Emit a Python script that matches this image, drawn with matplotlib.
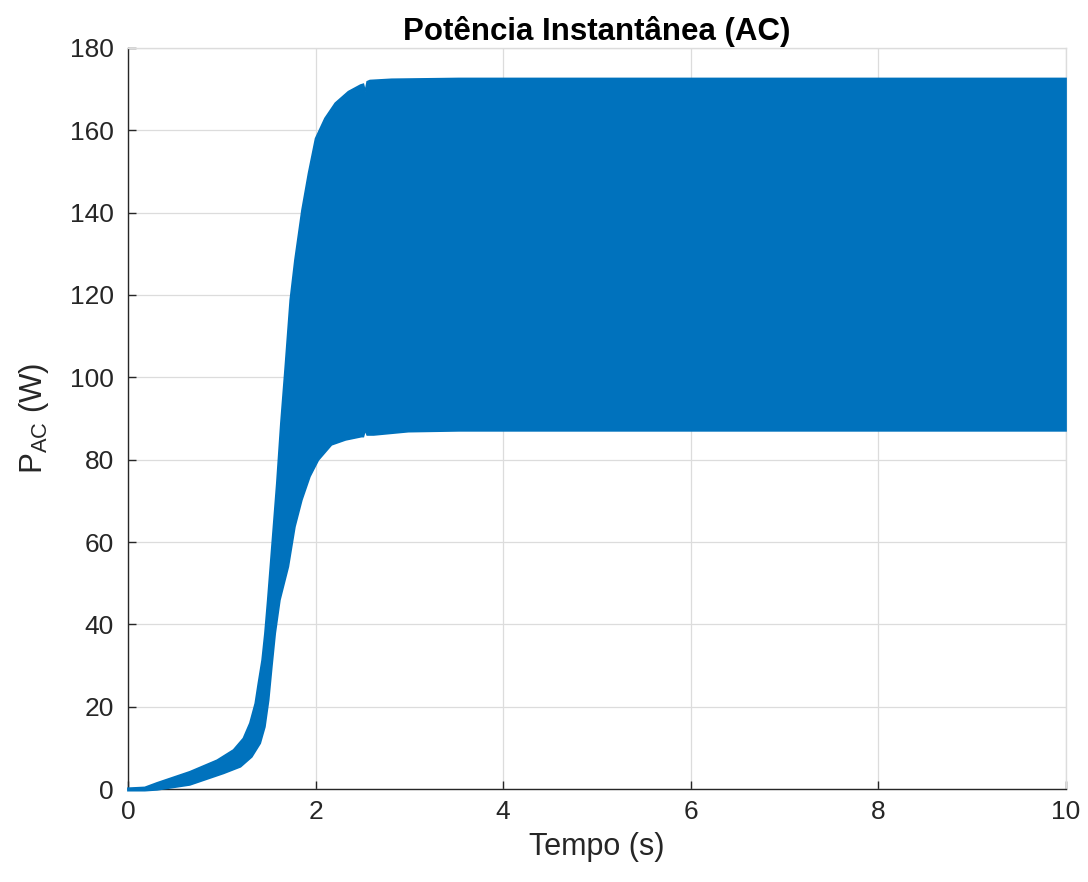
import numpy as np
import matplotlib
matplotlib.use("Agg")
import matplotlib.pyplot as plt

# Envelope of the instantaneous AC power: upper and lower bounds (W) over time (s)
t_upper = [0.0, 0.18, 0.31, 0.66, 0.95, 1.125, 1.23, 1.30, 1.357, 1.39, 1.43, 1.46, 1.49,
           1.54, 1.587, 1.63, 1.677, 1.73, 1.78, 1.855, 1.925, 2.0, 2.10, 2.21,
           2.35, 2.48, 2.51, 2.53, 2.55, 2.58, 2.81, 3.53, 10.0]
p_upper = [0.2, 0.4, 1.5, 4.2, 7.0, 9.5, 12.3, 16.0, 20.8, 25.7, 31.3, 37.8, 45.9,
           60.5, 74.3, 88.8, 102.6, 118.8, 128.5, 140.6, 149.6, 158.0, 162.9, 166.6,
           169.4, 171.0, 171.2, 169.4, 171.8, 172.1, 172.4, 172.6, 172.6]

t_lower = [0.0, 0.18, 0.31, 0.66, 1.02, 1.20, 1.32, 1.41, 1.46, 1.50, 1.534, 1.57, 1.62,
           1.71, 1.78, 1.854, 1.94, 2.03, 2.17, 2.32, 2.49, 2.51, 2.53, 2.55, 2.62,
           2.99, 3.53, 10.0]
p_lower = [-0.4, -0.4, -0.2, 1.0, 3.8, 5.4, 7.8, 11.1, 15.1, 21.6, 29.7, 37.8, 45.9,
           54.0, 63.7, 70.2, 75.9, 79.9, 83.6, 84.8, 85.6, 85.6, 87.2, 86.0, 86.0,
           86.8, 87.0, 87.0]

x_ticks = [0, 2, 4, 6, 8, 10]
y_ticks = [0, 20, 40, 60, 80, 100, 120, 140, 160, 180]

plt.rcParams['font.family'] = ['Liberation Sans', 'DejaVu Sans']

fig = plt.figure(figsize=(10.88, 8.82), dpi=100)
ax = fig.add_axes([0.1176, 0.1054, 0.8622, 0.8402])

color = '#0072BD'
# closed outline: along the upper bound, then back along the lower bound
poly_t = list(t_upper) + list(t_lower[::-1])
poly_p = list(p_upper) + list(p_lower[::-1])
ax.fill(poly_t, poly_p, facecolor=color, edgecolor=color, linewidth=1.2,
        zorder=3, clip_on=False)

ax.set_xlim(0, 10)
ax.set_ylim(0, 180)
ax.set_xticks(x_ticks)
ax.set_yticks(y_ticks)
ax.grid(True, color='#dcdcdc', linewidth=0.9, zorder=0)
ax.set_axisbelow(True)

for side in ('left', 'bottom'):
    ax.spines[side].set_color('#262626')
    ax.spines[side].set_linewidth(1.0)
for side in ('top', 'right'):
    ax.spines[side].set_color('#dcdcdc')
    ax.spines[side].set_linewidth(1.0)

ax.tick_params(direction='in', length=6, width=1.0, colors='#262626',
               labelsize=19, labelcolor='#262626', pad=8)
ax.tick_params(axis='y', pad=10)

ax.set_xlabel('Tempo (s)', fontsize=22, color='#262626', labelpad=6)
ax.set_ylabel(r'P$_{\mathregular{AC}}$ (W)', fontsize=22.5, color='#262626', labelpad=14)
ax.set_title('Potência Instantânea (AC)', fontsize=22.5, fontweight='bold',
             color='black', pad=6)

fig.savefig('out.png', dpi=100)
